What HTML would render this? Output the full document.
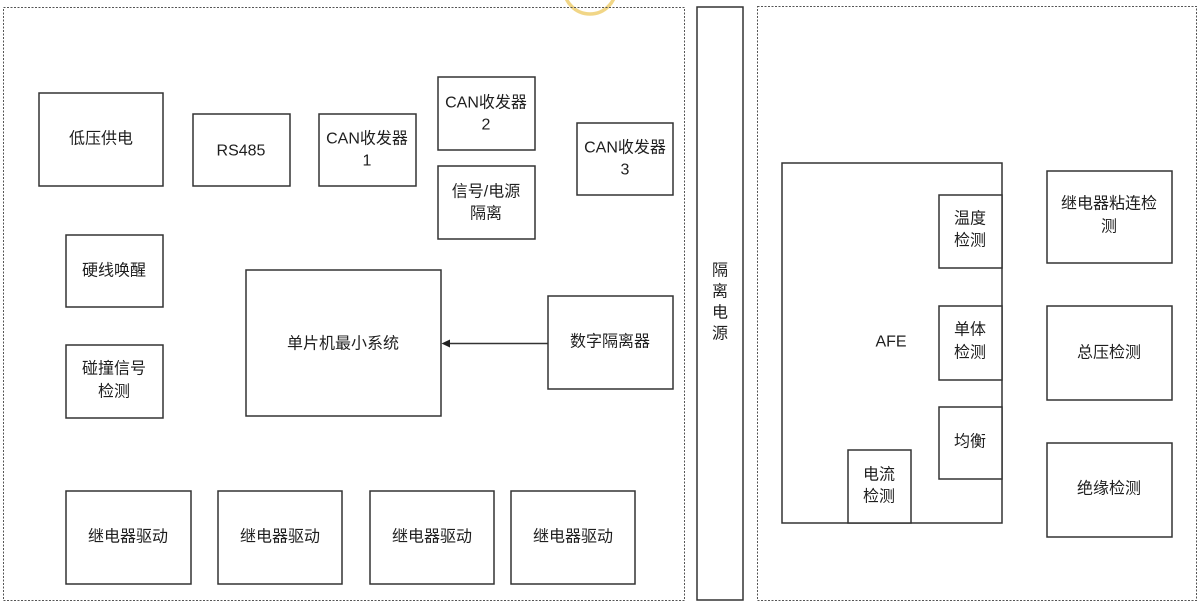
<!DOCTYPE html>
<html><head><meta charset="utf-8"><style>
html,body{margin:0;padding:0;background:#fff;}
svg{display:block;}
text{font-family:"Liberation Sans","Noto Sans CJK SC",sans-serif;font-size:16px;fill:#1e1e1e;text-anchor:middle;dominant-baseline:central;}
.b{fill:#fff;stroke:#333;stroke-width:1.5;}
.d{fill:none;stroke:#555;stroke-width:1;stroke-dasharray:2 1.5;}
</style></head><body>
<svg width="1202" height="606" viewBox="0 0 1202 606" xmlns="http://www.w3.org/2000/svg">
<rect x="0" y="0" width="1202" height="606" fill="#fff"/>
<circle cx="590" cy="-12" r="26" fill="none" stroke="#f0d27a" stroke-width="3.5" opacity="0.9"/>
<!-- dashed containers -->
<rect class="d" x="3.5" y="7.5" width="681" height="593"/>
<rect class="d" x="757.5" y="6.5" width="439" height="594"/>
<!-- isolated power -->
<rect class="b" x="697" y="7" width="46" height="593"/>
<text x="720" y="271">隔</text>
<text x="720" y="292">离</text>
<text x="720" y="313">电</text>
<text x="720" y="334">源</text>

<!-- left boxes -->
<rect class="b" x="39" y="93" width="124" height="93"/>
<text x="101" y="139">低压供电</text>
<rect class="b" x="193" y="114" width="97" height="72"/>
<text x="241" y="151">RS485</text>
<rect class="b" x="319" y="114" width="97" height="72"/>
<text x="367" y="139">CAN收发器</text>
<text x="367" y="161">1</text>
<rect class="b" x="438" y="77" width="97" height="73"/>
<text x="486" y="103">CAN收发器</text>
<text x="486" y="125">2</text>
<rect class="b" x="438" y="166" width="97" height="73"/>
<text x="486" y="192">信号/电源</text>
<text x="486" y="214">隔离</text>
<rect class="b" x="577" y="123" width="96" height="72"/>
<text x="625" y="148">CAN收发器</text>
<text x="625" y="170">3</text>
<rect class="b" x="66" y="235" width="97" height="72"/>
<text x="114" y="271">硬线唤醒</text>
<rect class="b" x="66" y="345" width="97" height="73"/>
<text x="114" y="369">碰撞信号</text>
<text x="114" y="392">检测</text>
<rect class="b" x="246" y="270" width="195" height="146"/>
<text x="343" y="344">单片机最小系统</text>
<rect class="b" x="548" y="296" width="125" height="93"/>
<text x="610" y="342">数字隔离器</text>
<line x1="548" y1="343.5" x2="449" y2="343.5" stroke="#333" stroke-width="1.5"/>
<polygon points="441.5,343.5 450,339.5 450,347.5" fill="#222"/>

<rect class="b" x="66" y="491" width="125" height="93"/>
<text x="128" y="537">继电器驱动</text>
<rect class="b" x="218" y="491" width="124" height="93"/>
<text x="280" y="537">继电器驱动</text>
<rect class="b" x="370" y="491" width="124" height="93"/>
<text x="432" y="537">继电器驱动</text>
<rect class="b" x="511" y="491" width="124" height="93"/>
<text x="573" y="537">继电器驱动</text>

<!-- right side -->
<rect class="b" x="782" y="163" width="220" height="360"/>
<text x="891" y="342">AFE</text>
<rect class="b" x="939" y="195" width="63" height="73"/>
<text x="970" y="219">温度</text>
<text x="970" y="241">检测</text>
<rect class="b" x="939" y="306" width="63" height="74"/>
<text x="970" y="330">单体</text>
<text x="970" y="353">检测</text>
<rect class="b" x="939" y="407" width="63" height="72"/>
<text x="970" y="442">均衡</text>
<rect class="b" x="848" y="450" width="63" height="73"/>
<text x="879" y="475">电流</text>
<text x="879" y="497">检测</text>

<rect class="b" x="1047" y="171" width="125" height="92"/>
<text x="1109" y="204">继电器粘连检</text>
<text x="1109" y="227">测</text>
<rect class="b" x="1047" y="306" width="125" height="94"/>
<text x="1109" y="353">总压检测</text>
<rect class="b" x="1047" y="443" width="125" height="94"/>
<text x="1109" y="489">绝缘检测</text>
</svg>
</body></html>
